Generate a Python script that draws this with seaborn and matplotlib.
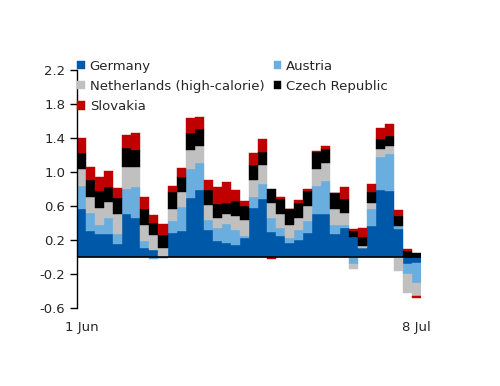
import numpy as np
import pandas as pd
import matplotlib
matplotlib.use("Agg")
import matplotlib.pyplot as plt
import seaborn as sns

# daily values, 1 Jun .. 8 Jul
germany = [0.57, 0.31, 0.27, 0.27, 0.15, 0.51, 0.46, 0.11, 0.08, -0.01,
           0.28, 0.30, 0.69, 0.79, 0.32, 0.19, 0.16, 0.14, 0.22, 0.58,
           0.68, 0.29, 0.25, 0.16, 0.20, 0.28, 0.51, 0.51, 0.27, 0.34,
           0.23, 0.10, 0.37, 0.79, 0.78, 0.33, -0.08, -0.07]
austria = [0.26, 0.21, 0.11, 0.19, 0.12, 0.29, 0.36, 0.08, -0.02, 0.0,
           0.14, 0.29, 0.35, 0.31, 0.12, 0.15, 0.23, 0.18, 0.03, 0.12,
           0.18, 0.17, 0.09, 0.06, 0.12, 0.14, 0.33, 0.38, 0.11, 0.04,
           -0.08, 0.01, 0.19, 0.39, 0.43, 0.03, -0.12, -0.24]
netherlands = [0.20, 0.19, 0.20, 0.19, 0.24, 0.26, 0.24, 0.19, 0.18, 0.11,
               0.15, 0.17, 0.22, 0.20, 0.17, 0.12, 0.11, 0.16, 0.18, 0.21,
               0.22, 0.17, 0.16, 0.16, 0.14, 0.18, 0.20, 0.21, 0.19, 0.14,
               -0.06, 0.02, 0.07, 0.09, 0.09, -0.16, -0.22, -0.15]
czech = [0.19, 0.20, 0.20, 0.17, 0.18, 0.22, 0.20, 0.18, 0.14, 0.15,
         0.19, 0.18, 0.20, 0.21, 0.18, 0.16, 0.14, 0.18, 0.17, 0.17,
         0.15, 0.17, 0.18, 0.18, 0.18, 0.18, 0.19, 0.17, 0.18, 0.16,
         0.07, 0.11, 0.13, 0.12, 0.12, 0.12, 0.07, 0.05]
slovakia = [0.18, 0.15, 0.16, 0.19, 0.12, 0.16, 0.20, 0.14, 0.09, 0.13,
            0.07, 0.11, 0.17, 0.14, 0.12, 0.20, 0.24, 0.13, 0.06, 0.14,
            0.16, -0.02, 0.02, 0.01, 0.03, 0.02, 0.02, 0.04, 0.0, 0.14,
            0.03, 0.10, 0.10, 0.13, 0.14, 0.07, 0.02, -0.02]

countries = ["Germany", "Austria", "Netherlands (high-calorie)",
             "Czech Republic", "Slovakia"]
colors = ["#0058a8", "#6aaee0", "#c0c0c0", "#000000", "#c00000"]
xlabels = ["1 Jun", "8 Jul"]

df = pd.DataFrame(dict(zip(countries, [germany, austria, netherlands, czech, slovakia])))

sns.set_style("ticks")
plt.rcParams["font.family"] = ["DejaVu Sans"]
plt.rcParams["axes.unicode_minus"] = False

fig = plt.figure(figsize=(5, 3.86), dpi=100)
ax = fig.add_axes([0.154, 0.202, 0.688, 0.617])

x = np.arange(len(df))
pos = np.zeros(len(df))
neg = np.zeros(len(df))
handles = {}
for name, col in zip(countries, colors):
    v = df[name].values
    bottom = np.where(v >= 0, pos, neg)
    handles[name] = ax.bar(x, v, bottom=bottom, width=1.0, color=col,
                           edgecolor=col, linewidth=0.3, label=name)
    pos = pos + np.clip(v, 0, None)
    neg = neg + np.clip(v, None, 0)

ax.axhline(0, color="black", linewidth=1.2)
ax.set_xlim(-0.5, len(df) - 0.5)
ax.set_ylim(-0.6, 2.2)
yt = np.arange(-0.6, 2.21, 0.4)
ax.set_yticks(yt)
ax.set_yticklabels([f"{t:.1f}" for t in yt], fontsize=9.5)
ax.set_xticks([0, len(df) - 1])
ax.set_xticklabels(xlabels, fontsize=9.5)
ax.tick_params(axis="x", length=0, pad=9)
ax.tick_params(axis="y", length=5, width=1, color="black", direction="out")
sns.despine(ax=ax, top=True, right=True, bottom=True)
ax.spines["left"].set_color("black")
ax.spines["left"].set_linewidth(1)

# row-wise legend order: Germany/Austria, Netherlands/Czech, Slovakia
order = ["Germany", "Netherlands (high-calorie)", "Slovakia",
         "Austria", "Czech Republic"]
ax.legend([handles[n] for n in order], order, ncol=2, loc="upper left",
          bbox_to_anchor=(-0.015, 1.065), frameon=False, fontsize=9.5,
          handlelength=0.6, handleheight=0.6, handletextpad=0.35,
          columnspacing=0.7, labelspacing=0.55, borderaxespad=0)

fig.savefig("out.png", dpi=100)
